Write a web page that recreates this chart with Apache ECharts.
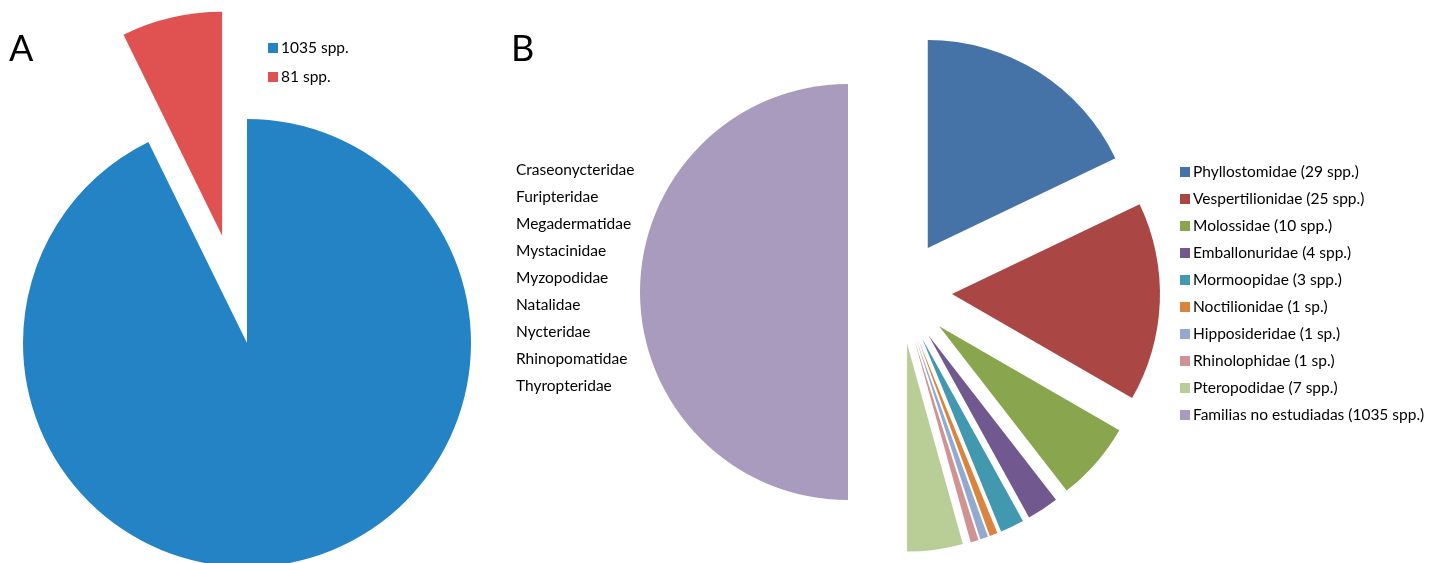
<!DOCTYPE html>
<html>
<head>
<meta charset="utf-8">
<script src="https://cdn.jsdelivr.net/npm/echarts@6/dist/echarts.min.js"></script>
<style>
  html, body { margin: 0; padding: 0; background: #ffffff; }
  #chart { width: 1437px; height: 563px; }
</style>
</head>
<body>
<div id="chart"></div>
<script>
// Panel A: studied vs. not studied species
const totalLabels = ['1035 spp.', '81 spp.'];
const totalValues = [1035, 81];
const totalColors = ['#2383c4', '#e05252'];

// Panel B: species studied per family
const families = [
  'Phyllostomidae (29 spp.)',
  'Vespertilionidae (25 spp.)',
  'Molossidae (10 spp.)',
  'Emballonuridae (4 spp.)',
  'Mormoopidae (3 spp.)',
  'Noctilionidae (1 sp.)',
  'Hipposideridae (1 sp.)',
  'Rhinolophidae (1 sp.)',
  'Pteropodidae (7 spp.)'
];
const familyValues = [29, 25, 10, 4, 3, 1, 1, 1, 7];
const familyColors = ['#4572a7', '#aa4643', '#89a54e', '#71588f', '#4198af',
                      '#db843d', '#93a9cf', '#d19392', '#b9cd96'];

// Families without studies (shown as one half of panel B)
const otherLabel = 'Familias no estudiadas (1035 spp.)';
const otherValue = 1035;
const otherColor = '#a99bbd';
const otherFamilies = ['Craseonycteridae', 'Furipteridae', 'Megadermatidae',
  'Mystacinidae', 'Myzopodidae', 'Natalidae', 'Nycteridae',
  'Rhinopomatidae', 'Thyropteridae'];

const FONT = 'Lato';
const FS = 15.5;

const chart = echarts.init(document.getElementById('chart'), null, { renderer: 'canvas' });

chart.setOption({
  animation: false,
  backgroundColor: '#ffffff',
  textStyle: { fontFamily: FONT },
  title: [
    { text: 'A', left: 9, top: 31, padding: 0, textStyle: { fontFamily: FONT, fontSize: 36, fontWeight: 'normal', color: '#000' } },
    { text: 'B', left: 511, top: 31, padding: 0, textStyle: { fontFamily: FONT, fontSize: 36, fontWeight: 'normal', color: '#000' } },
    { text: otherFamilies.join('\n'), left: 516, top: 156, padding: 0,
      textStyle: { fontFamily: FONT, fontSize: FS, fontWeight: 'normal', color: '#000', lineHeight: 27 } }
  ],
  legend: [
    {
      data: totalLabels, orient: 'vertical', left: 268, top: 40, padding: 0,
      icon: 'rect', itemWidth: 10, itemHeight: 10, itemGap: 13,
      selectedMode: false,
      textStyle: { fontFamily: FONT, fontSize: FS, color: '#000', padding: [0, 0, 0, -2] }
    },
    {
      data: families.concat([otherLabel]), orient: 'vertical', left: 1180, top: 164, padding: 0,
      icon: 'rect', itemWidth: 10, itemHeight: 10, itemGap: 11,
      selectedMode: false,
      textStyle: { fontFamily: FONT, fontSize: FS, color: '#000', padding: [0, 0, 0, -2] }
    }
  ],
  series: [
    {
      type: 'pie', center: [247, 343], radius: 224, startAngle: 90,
      selectedMode: 'multiple', selectedOffset: 110,
      label: { show: false }, labelLine: { show: false },
      emphasis: { disabled: true },
      data: totalValues.map((v, i) => ({
        name: totalLabels[i], value: v, selected: i === 1,
        itemStyle: { color: totalColors[i] }
      }))
    },
    {
      type: 'pie', center: [900, 292], radius: 208,
      startAngle: 270, endAngle: 90, clockwise: true,
      selectedMode: 'multiple', selectedOffset: 52,
      label: { show: false }, labelLine: { show: false },
      emphasis: { disabled: true },
      data: [{ name: otherLabel, value: otherValue, selected: true, itemStyle: { color: otherColor } }]
    },
    {
      type: 'pie', center: [900, 292], radius: 208,
      startAngle: 90, endAngle: -90, clockwise: true,
      selectedMode: 'multiple', selectedOffset: 52,
      label: { show: false }, labelLine: { show: false },
      emphasis: { disabled: true },
      data: familyValues.map((v, i) => ({
        name: families[i], value: v, selected: true,
        itemStyle: { color: familyColors[i] }
      }))
    }
  ]
});
</script>
</body>
</html>
